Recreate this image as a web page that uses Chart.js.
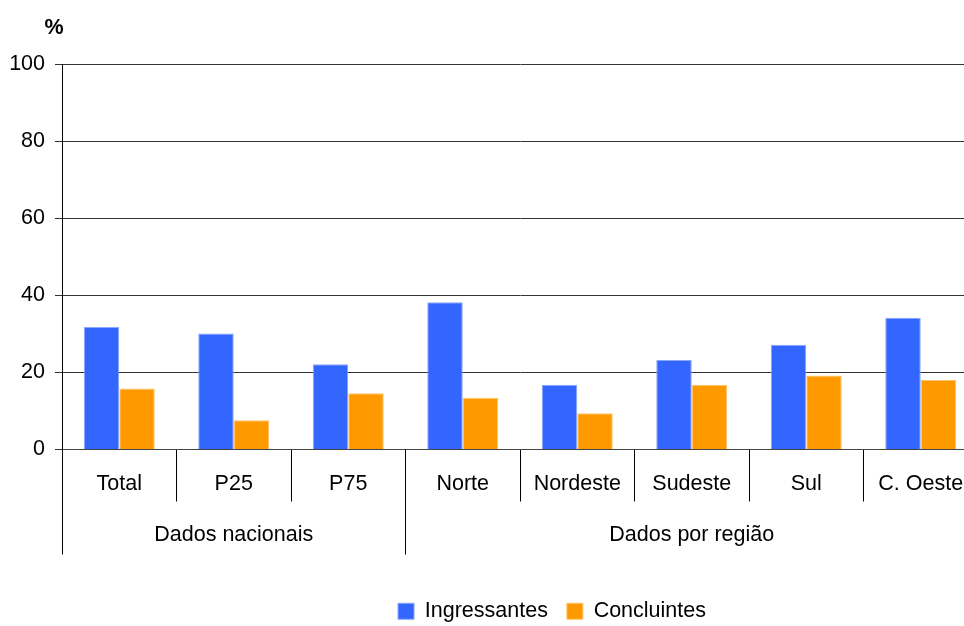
<!DOCTYPE html>
<html lang="pt-BR">
<head>
<meta charset="utf-8">
<title>Ingressantes e Concluintes</title>
<script src="https://cdn.jsdelivr.net/npm/chart.js@4.4.1/dist/chart.umd.min.js"></script>
<style>
  html, body { margin: 0; padding: 0; background: #fff; overflow: hidden; }
  /* a área do gráfico é cortada na borda direita, como no original */
  #wrap { width: 978px; height: 626px; position: relative; }
</style>
</head>
<body>
<div id="wrap"><canvas id="grafico"></canvas></div>
<script>
// dados do gráfico
const categorias = ['Total', 'P25', 'P75', 'Norte', 'Nordeste', 'Sudeste', 'Sul', 'C. Oeste'];
const ingressantes = [31.8, 30.1, 22.1, 38.2, 16.8, 23.2, 27.2, 34.2];
const concluintes = [15.8, 7.6, 14.6, 13.4, 9.4, 16.8, 19.2, 18.0];
const grupos = ['Dados nacionais', 'Dados por região'];
const tamanhoGrupos = [3, 5];
const ticksY = [0, 20, 40, 60, 80, 100];

const FONTE = '"Liberation Sans", Arial, sans-serif';
Chart.defaults.font.family = FONTE;
Chart.defaults.font.size = 21.5;
Chart.defaults.color = '#000';

// desenha o "%" e os rótulos de grupo com as linhas separadoras
const gruposPlugin = {
  id: 'grupos',
  afterLayout(chart) {
    // desloca a legenda para a posição do original
    const lg = chart.legend;
    lg.left += 63; lg.right += 63;
    lg.top += 12; lg.bottom += 12;
  },
  afterDraw(chart) {
    const ctx = chart.ctx;
    const x = chart.scales.x;
    const area = chart.chartArea;
    const meio = (x.getPixelForValue(1) - x.getPixelForValue(0)) / 2;

    ctx.save();
    ctx.strokeStyle = '#000';
    ctx.lineWidth = 1;
    ctx.fillStyle = '#000';
    ctx.font = '21.5px ' + FONTE;
    ctx.textAlign = 'center';
    ctx.textBaseline = 'middle';

    let inicio = 0;
    grupos.forEach((nome, i) => {
      const fim = inicio + tamanhoGrupos[i];
      const x0 = x.getPixelForValue(inicio) - meio;
      const x1 = x.getPixelForValue(fim - 1) + meio;
      const xl = Math.round(x0 - 0.5) + 0.5;
      ctx.beginPath();
      ctx.moveTo(xl, area.bottom);
      ctx.lineTo(xl, area.bottom + 105);
      ctx.stroke();
      ctx.fillText(nome, (x0 + x1) / 2, area.bottom + 86);
      inicio = fim;
    });

    ctx.font = 'bold 21.5px ' + FONTE;
    ctx.fillText('%', 54, 28);
    ctx.restore();
  }
};

const ctx = document.getElementById('grafico').getContext('2d');

new Chart(ctx, {
  type: 'bar',
  data: {
    labels: categorias,
    datasets: [
      {
        label: 'Ingressantes',
        data: ingressantes,
        backgroundColor: '#3366ff',
        borderColor: '#8aa6ff',
        borderWidth: 1,
        categoryPercentage: 0.62,
        barPercentage: 1.0
      },
      {
        label: 'Concluintes',
        data: concluintes,
        backgroundColor: '#ff9900',
        borderColor: '#ffc46a',
        borderWidth: 1,
        categoryPercentage: 0.62,
        barPercentage: 1.0
      }
    ]
  },
  options: {
    responsive: true,
    maintainAspectRatio: false,
    animation: false,
    layout: {
      padding: { top: 64, right: 0, bottom: 6, left: 0 }
    },
    scales: {
      x: {
        grid: {
          drawOnChartArea: false,
          tickLength: 52,
          color: '#000'
        },
        border: { color: '#444' },
        ticks: { padding: -30, maxRotation: 0, autoSkip: false },
        afterFit(scale) { scale.height = 120; }
      },
      y: {
        min: 0,
        max: 100,
        afterBuildTicks(scale) {
          scale.ticks = ticksY.map(v => ({ value: v }));
        },
        grid: { color: '#333', tickLength: 7 },
        border: { color: '#000' },
        ticks: { padding: 10 },
        afterFit(scale) { scale.width = 62; }
      }
    },
    plugins: {
      legend: {
        position: 'bottom',
        labels: {
          boxWidth: 16,
          boxHeight: 16,
          padding: 19
        }
      },
      tooltip: { enabled: false }
    }
  },
  plugins: [gruposPlugin]
});
</script>
</body>
</html>
